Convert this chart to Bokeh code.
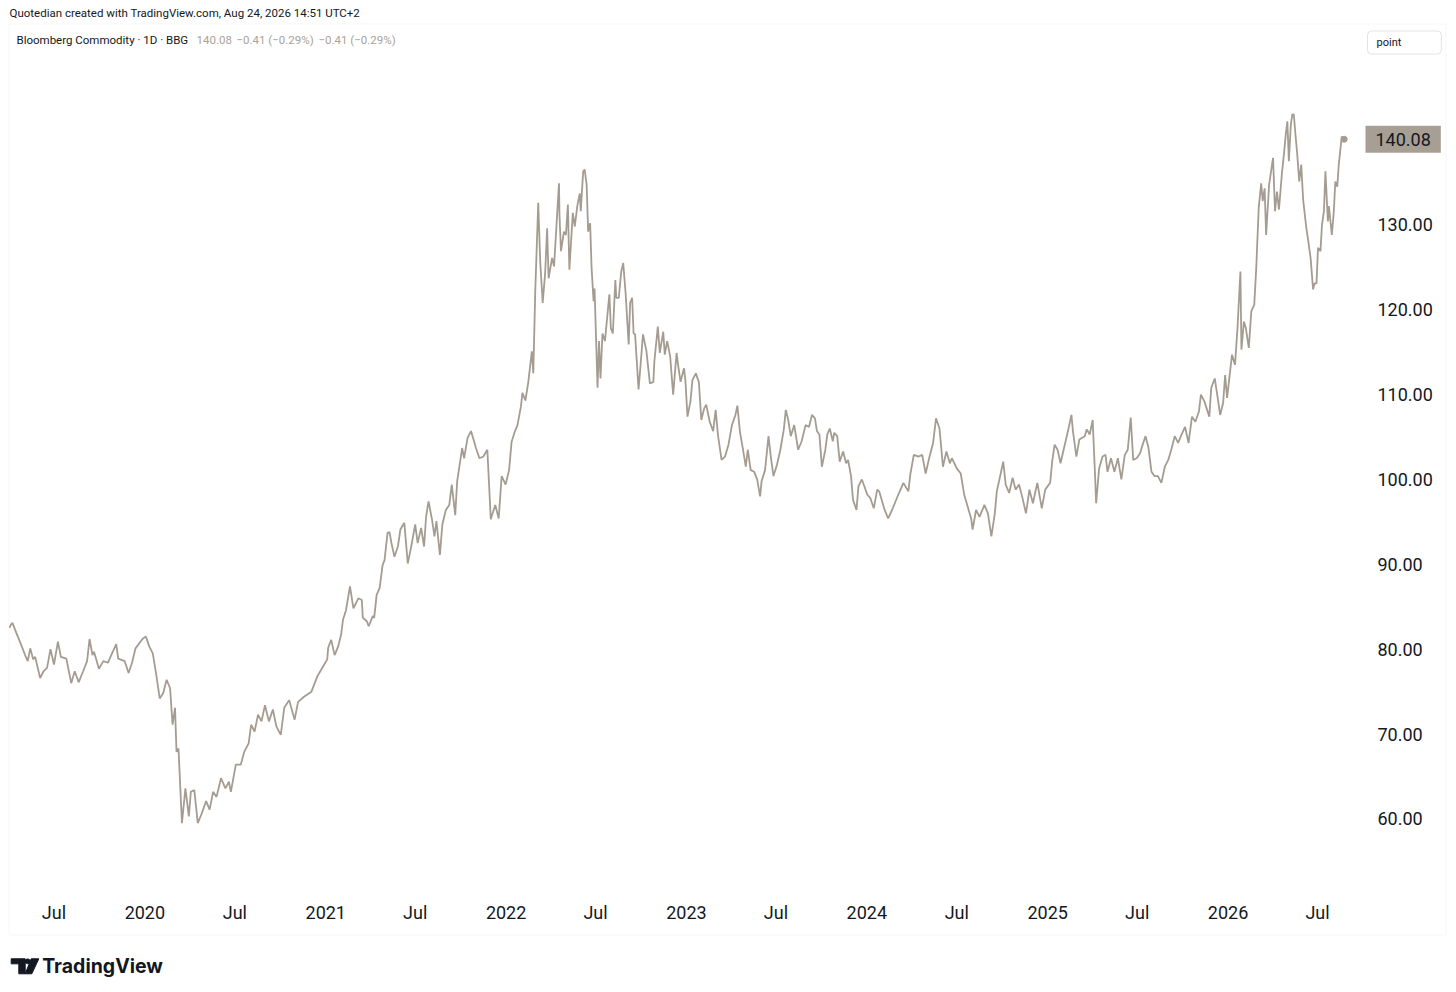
import pandas as pd
from bokeh.plotting import figure
from bokeh.models import (Range1d, FixedTicker, CustomJSTickFormatter, NumeralTickFormatter,
                          Label, BoxAnnotation, ColumnDataSource)
from bokeh.embed import file_html
from bokeh.resources import INLINE

# ---------------- data ----------------
dates = [
    "2019-04-02", "2019-04-05", "2019-04-08", "2019-04-16", "2019-04-23", "2019-05-03", "2019-05-09",
    "2019-05-14", "2019-05-20", "2019-05-24", "2019-06-03", "2019-06-10", "2019-06-17", "2019-06-24",
    "2019-07-01", "2019-07-09", "2019-07-15", "2019-07-26", "2019-08-05", "2019-08-12", "2019-08-20",
    "2019-08-29", "2019-09-06", "2019-09-11", "2019-09-17", "2019-09-20", "2019-09-30", "2019-10-09",
    "2019-10-18", "2019-10-25", "2019-11-04", "2019-11-08", "2019-11-21", "2019-11-29", "2019-12-06",
    "2019-12-13", "2019-12-27",
    "2020-01-03", "2020-01-10", "2020-01-17", "2020-01-24", "2020-01-31", "2020-02-07", "2020-02-14",
    "2020-02-21", "2020-02-26", "2020-03-02", "2020-03-05", "2020-03-09", "2020-03-16", "2020-03-23",
    "2020-03-30", "2020-04-03", "2020-04-10", "2020-04-17", "2020-04-24", "2020-05-04", "2020-05-11",
    "2020-05-18", "2020-05-25", "2020-06-03", "2020-06-12", "2020-06-19", "2020-06-23", "2020-07-03",
    "2020-07-13", "2020-07-20", "2020-07-29", "2020-08-03", "2020-08-10", "2020-08-17", "2020-08-24",
    "2020-08-31", "2020-09-08", "2020-09-16", "2020-09-23", "2020-10-02", "2020-10-09", "2020-10-19",
    "2020-10-30", "2020-11-06", "2020-11-18", "2020-12-03", "2020-12-15", "2020-12-23",
    "2021-01-04", "2021-01-06", "2021-01-12", "2021-01-19", "2021-01-26", "2021-02-01", "2021-02-05",
    "2021-02-11", "2021-02-19", "2021-02-26", "2021-03-08", "2021-03-15", "2021-03-17", "2021-03-25",
    "2021-03-29", "2021-04-06", "2021-04-09", "2021-04-14", "2021-04-20", "2021-04-26", "2021-04-30",
    "2021-05-06", "2021-05-10", "2021-05-14", "2021-05-20", "2021-05-27", "2021-06-01", "2021-06-09",
    "2021-06-16", "2021-06-23", "2021-07-01", "2021-07-06", "2021-07-13", "2021-07-19", "2021-07-23",
    "2021-07-28", "2021-08-04", "2021-08-09", "2021-08-13", "2021-08-20", "2021-08-25", "2021-09-01",
    "2021-09-08", "2021-09-13", "2021-09-20", "2021-09-24", "2021-10-04", "2021-10-08", "2021-10-15",
    "2021-10-22", "2021-11-01", "2021-11-08", "2021-11-16", "2021-11-24", "2021-12-01", "2021-12-10",
    "2021-12-17", "2021-12-23", "2021-12-31",
    "2022-01-07", "2022-01-12", "2022-01-19", "2022-01-24", "2022-01-31", "2022-02-03", "2022-02-09",
    "2022-02-15", "2022-02-22", "2022-02-25", "2022-03-01", "2022-03-07", "2022-03-11", "2022-03-16",
    "2022-03-21", "2022-03-25", "2022-03-28", "2022-04-04", "2022-04-08", "2022-04-18", "2022-04-19",
    "2022-04-22", "2022-04-28", "2022-05-02", "2022-05-06", "2022-05-09", "2022-05-16", "2022-05-20",
    "2022-05-25", "2022-05-30", "2022-06-01", "2022-06-06", "2022-06-09", "2022-06-13", "2022-06-16",
    "2022-06-20", "2022-06-23", "2022-06-27", "2022-06-29", "2022-07-05", "2022-07-08", "2022-07-11",
    "2022-07-15", "2022-07-20", "2022-07-25", "2022-07-29", "2022-08-01", "2022-08-05", "2022-08-10",
    "2022-08-12", "2022-08-17", "2022-08-22", "2022-08-26", "2022-08-31", "2022-09-06", "2022-09-09",
    "2022-09-13", "2022-09-16", "2022-09-19", "2022-09-26", "2022-09-29", "2022-10-05", "2022-10-12",
    "2022-10-19", "2022-10-26", "2022-10-28", "2022-11-04", "2022-11-08", "2022-11-15", "2022-11-18",
    "2022-11-23", "2022-11-29", "2022-12-05", "2022-12-12", "2022-12-15", "2022-12-20", "2022-12-27",
    "2022-12-30",
    "2023-01-03", "2023-01-09", "2023-01-13", "2023-01-20", "2023-01-26", "2023-01-31", "2023-02-06",
    "2023-02-10", "2023-02-17", "2023-02-24", "2023-03-01", "2023-03-06", "2023-03-13", "2023-03-20",
    "2023-03-27", "2023-04-03", "2023-04-10", "2023-04-14", "2023-04-19", "2023-04-26", "2023-05-01",
    "2023-05-05", "2023-05-11", "2023-05-18", "2023-05-24", "2023-05-30", "2023-06-02", "2023-06-09",
    "2023-06-16", "2023-06-21", "2023-06-26", "2023-07-03", "2023-07-10", "2023-07-17", "2023-07-21",
    "2023-07-26", "2023-07-31", "2023-08-07", "2023-08-15", "2023-08-22", "2023-08-30", "2023-09-06",
    "2023-09-12", "2023-09-18", "2023-09-22", "2023-09-27", "2023-10-02", "2023-10-09", "2023-10-13",
    "2023-10-18", "2023-10-24", "2023-10-27", "2023-11-02", "2023-11-07", "2023-11-14", "2023-11-20",
    "2023-11-24", "2023-11-30", "2023-12-04", "2023-12-11", "2023-12-15", "2023-12-22",
    "2024-01-02", "2024-01-08", "2024-01-15", "2024-01-22", "2024-01-26", "2024-02-05", "2024-02-13",
    "2024-02-21", "2024-02-28", "2024-03-06", "2024-03-15", "2024-03-25", "2024-03-29", "2024-04-05",
    "2024-04-15", "2024-04-22", "2024-04-29", "2024-05-06", "2024-05-14", "2024-05-20", "2024-05-27",
    "2024-06-03", "2024-06-10", "2024-06-17", "2024-06-21", "2024-07-01", "2024-07-09", "2024-07-16",
    "2024-07-23", "2024-07-30", "2024-08-02", "2024-08-09", "2024-08-16", "2024-08-26", "2024-09-02",
    "2024-09-09", "2024-09-16", "2024-09-20", "2024-09-26", "2024-10-03", "2024-10-08", "2024-10-15",
    "2024-10-22", "2024-10-28", "2024-11-04", "2024-11-11", "2024-11-18", "2024-11-25", "2024-12-02",
    "2024-12-11", "2024-12-20", "2024-12-27",
    "2025-01-06", "2025-01-10", "2025-01-15", "2025-01-21", "2025-01-27", "2025-02-03", "2025-02-11",
    "2025-02-18", "2025-02-21", "2025-02-28", "2025-03-06", "2025-03-17", "2025-03-21", "2025-03-27",
    "2025-04-02", "2025-04-07", "2025-04-09", "2025-04-15", "2025-04-22", "2025-04-28", "2025-05-02",
    "2025-05-09", "2025-05-16", "2025-05-23", "2025-05-30", "2025-06-06", "2025-06-12", "2025-06-18",
    "2025-06-23", "2025-06-30", "2025-07-07", "2025-07-11", "2025-07-18", "2025-07-24", "2025-07-30",
    "2025-08-05", "2025-08-12", "2025-08-19", "2025-08-26", "2025-09-02", "2025-09-08", "2025-09-15",
    "2025-09-22", "2025-09-29", "2025-10-06", "2025-10-13", "2025-10-20", "2025-10-27", "2025-11-03",
    "2025-11-07", "2025-11-14", "2025-11-24", "2025-11-28", "2025-12-05", "2025-12-10", "2025-12-16",
    "2025-12-22", "2025-12-26", "2025-12-30",
    "2026-01-05", "2026-01-09", "2026-01-15", "2026-01-20", "2026-01-26", "2026-01-28", "2026-02-02",
    "2026-02-06", "2026-02-12", "2026-02-17", "2026-02-23", "2026-02-27", "2026-03-04", "2026-03-09",
    "2026-03-12", "2026-03-16", "2026-03-19", "2026-03-25", "2026-03-30", "2026-04-02", "2026-04-06",
    "2026-04-10", "2026-04-14", "2026-04-20", "2026-04-24", "2026-04-28", "2026-05-01", "2026-05-04",
    "2026-05-08", "2026-05-11", "2026-05-14", "2026-05-18", "2026-05-21", "2026-05-25", "2026-05-29",
    "2026-06-02", "2026-06-08", "2026-06-12", "2026-06-17", "2026-06-22", "2026-06-25", "2026-06-29",
    "2026-07-02", "2026-07-07", "2026-07-10", "2026-07-14", "2026-07-17", "2026-07-22", "2026-07-24",
    "2026-07-30", "2026-08-03", "2026-08-06", "2026-08-10", "2026-08-13", "2026-08-19", "2026-08-24",
]

values = [
    82.5, 82.9, 83.1, 81.9, 80.9, 79.4, 78.6,
    80.1, 78.8, 79.1, 76.6, 77.4, 77.8, 80.0,
    78.2, 80.9, 79.1, 78.9, 76.0, 77.4, 76.1,
    77.4, 78.6, 81.2, 79.3, 79.7, 77.7, 78.6,
    78.4, 79.3, 80.6, 78.9, 78.6, 77.2, 78.4,
    80.1, 81.2,
    81.5, 80.3, 79.5, 77.0, 74.2, 74.8, 76.4,
    75.4, 71.1, 73.1, 67.9, 68.3, 59.5, 63.6,
    60.3, 63.2, 63.4, 59.5, 60.5, 62.1, 61.1,
    63.2, 62.6, 64.8, 63.6, 64.4, 63.2, 66.4,
    66.4, 67.9, 68.9, 71.1, 70.3, 72.3, 71.5,
    73.4, 71.5, 72.9, 70.9, 69.9, 73.1, 74.0,
    71.7, 73.8, 74.4, 75.0, 76.8, 77.6,
    78.8, 80.2, 81.1, 79.3, 80.3, 81.7, 83.5,
    84.6, 87.4, 84.8, 86.0, 85.8, 83.7, 83.3,
    82.7, 83.9, 83.7, 86.4, 87.2, 89.9, 90.5,
    93.7, 93.8, 92.5, 90.9, 92.1, 94.1, 94.9,
    90.1, 92.1, 94.7, 92.5, 94.3, 92.1, 95.6,
    97.4, 95.3, 93.3, 95.1, 91.1, 94.7, 96.4,
    97.0, 99.4, 95.8, 99.8, 103.7, 102.5, 104.9,
    105.7, 103.7, 102.5, 102.7, 103.5, 95.3, 97.0,
    95.4, 100.4, 99.4,
    101.1, 104.4, 105.7, 106.4, 108.6, 110.2, 109.3,
    111.5, 115.1, 112.5, 122.2, 132.6, 125.7, 120.8,
    124.3, 129.6, 123.7, 126.1, 125.1, 134.9, 131.2,
    126.9, 129.2, 128.8, 132.4, 124.7, 131.4, 129.8,
    132.2, 133.7, 131.6, 136.3, 136.5, 134.7, 129.2,
    130.2, 124.9, 121.0, 122.5, 110.8, 116.3, 111.9,
    117.2, 116.3, 119.4, 121.8, 117.8, 117.2, 123.5,
    121.4, 121.4, 124.5, 125.5, 121.8, 115.9, 120.8,
    121.4, 117.2, 117.1, 110.6, 112.7, 117.1, 115.1,
    111.3, 111.5, 113.9, 118.0, 114.9, 117.4, 114.7,
    116.3, 114.5, 110.0, 114.9, 113.5, 111.5, 113.1,
    111.5,
    107.4, 109.2, 111.7, 112.5, 111.5, 107.0, 108.4,
    108.8, 106.8, 105.7, 108.2, 105.1, 102.3, 102.7,
    104.1, 106.4, 107.6, 108.7, 105.7, 103.3, 101.5,
    103.5, 101.1, 100.9, 100.0, 98.0, 99.8, 101.1,
    105.1, 102.5, 100.4, 101.7, 103.5, 105.9, 108.2,
    107.0, 105.1, 106.4, 103.5, 104.5, 106.4, 106.2,
    107.6, 107.2, 105.7, 105.3, 101.5, 103.5, 105.3,
    106.0, 104.5, 105.5, 105.1, 102.1, 103.3, 101.9,
    102.3, 100.4, 97.6, 96.4, 99.2, 100.0,
    98.2, 97.8, 96.6, 98.8, 98.6, 96.6, 95.4,
    96.4, 97.4, 98.4, 99.6, 98.6, 100.6, 102.9,
    102.7, 102.9, 100.7, 102.5, 104.3, 107.2, 106.0,
    101.5, 103.3, 101.9, 102.5, 101.3, 100.7, 98.2,
    96.8, 95.4, 94.1, 96.4, 95.6, 97.0, 96.0,
    93.3, 96.0, 98.6, 100.2, 102.1, 99.4, 98.4,
    100.2, 98.8, 99.4, 97.8, 96.0, 98.8, 97.2,
    99.6, 96.6, 98.8,
    99.6, 102.1, 104.1, 103.5, 101.9, 103.7, 105.7,
    107.6, 105.7, 102.7, 104.7, 105.1, 105.9, 105.3,
    107.0, 100.2, 97.2, 101.3, 102.7, 102.9, 100.9,
    102.5, 100.9, 102.5, 100.0, 102.9, 103.5, 107.3,
    102.3, 102.5, 103.1, 103.9, 105.1, 103.7, 100.9,
    100.4, 100.4, 99.6, 101.5, 102.3, 103.5, 105.1,
    104.3, 105.3, 106.2, 104.3, 107.4, 106.8, 108.0,
    110.0, 109.2, 107.4, 110.8, 111.9, 110.0, 107.6,
    109.0, 112.3, 109.6,
    112.7, 114.7, 113.5, 117.8, 124.5, 115.3, 118.6,
    117.8, 115.5, 119.8, 120.6, 124.9, 132.0, 134.9,
    132.8, 134.3, 128.8, 134.7, 136.7, 137.9, 131.6,
    133.9, 131.8, 136.1, 138.3, 140.8, 142.2, 137.5,
    141.8, 143.0, 143.0, 140.2, 138.3, 135.1, 137.1,
    132.9, 129.8, 128.2, 126.1, 122.4, 123.1, 123.1,
    127.3, 126.9, 130.0, 131.6, 136.3, 130.4, 132.2,
    128.8, 131.6, 135.1, 134.5, 137.1, 140.4, 140.08,
]

price_ticks = [60, 70, 80, 90, 100, 110, 120, 130]
time_ticks = ["2019-07-01", "2020-01-01", "2020-07-01", "2021-01-01", "2021-07-01", "2022-01-01",
              "2022-07-01", "2023-01-01", "2023-07-01", "2024-01-01", "2024-07-01", "2025-01-01",
              "2025-07-01", "2026-01-01", "2026-07-01"]
last_value = values[-1]

title_text = "Quotedian created with TradingView.com, Aug 24, 2026 14:51 UTC+2"
legend_name = "Bloomberg Commodity · 1D · BBG"
legend_vals = ["140.08", "−0.41 (−0.29%)", "−0.41 (−0.29%)"]

# ---------------- styling ----------------
LINE = "#a59c91"
TXT = "#131722"
FONT = "Roboto"
BORDER = "#e0e3eb"
H = 986   # height of the decoration layer that sits under the chart

# ---------------- decoration layer (page-pixel coordinates) ----------------
logo_t_x = [11.7, 25.7, 25.7, 19.3, 19.3, 11.7]
logo_t_y = [957.3, 957.3, 972.3, 972.3, 962.3, 962.3]
logo_s_x = [31.7, 39.3, 32.3, 25.7]
logo_s_y = [957.3, 957.3, 972.3, 972.3]

q = figure(width=1447, height=H, min_border=0, x_range=Range1d(1, 1448), y_range=Range1d(985, -1),
           x_axis_location=None, y_axis_location=None, output_backend="svg", toolbar_location=None,
           background_fill_color="white", border_fill_color="white")
q.outline_line_color = None
q.grid.visible = False
# chart panel border
q.add_layout(BoxAnnotation(left=9.5, right=1446.5, top=22.5, bottom=933.5,
                           fill_color=None, line_color=BORDER, line_width=1))
# "point" button
q.add_layout(Label(x=1368, y=41, text="point", text_font=FONT, text_font_size="11px",
                   text_color=TXT, text_baseline="middle",
                   background_fill_color="white", border_line_color=BORDER,
                   border_radius=4, padding=(9, 40, 5, 5)))
# TradingView logo
q.patch(logo_t_x, logo_t_y, color=TXT)
q.patch(logo_s_x, logo_s_y, color=TXT)
q.circle(x=[28.2], y=[959.8], radius=2.4, color=TXT)
q.add_layout(Label(x=42.7, y=964, text="TradingView", text_font="Inter", text_font_size="19.5px",
                   text_font_style="bold", text_color=TXT, text_baseline="middle"))

# ---------------- the chart ----------------
x = pd.to_datetime(dates)
src = ColumnDataSource(dict(x=x, y=values))

p = figure(
    x_axis_type="datetime", y_axis_location="right",
    frame_width=1353, frame_height=870,
    min_border_left=8, min_border_right=86, min_border_top=24, min_border_bottom=60,
    x_range=Range1d(pd.Timestamp("2019-03-31"), pd.Timestamp("2026-09-28")),
    y_range=Range1d(51.1, 153.6),
    output_backend="svg", toolbar_location=None,
    background_fill_color=None, border_fill_color=None,
)
p.outline_line_color = None
p.grid.visible = False

p.line("x", "y", source=src, line_color=LINE, line_width=1.8)
p.scatter(x=[x[-1]], y=[last_value], size=6, color=LINE)

# y axis (right)
ya = p.yaxis[0]
ya.ticker = FixedTicker(ticks=price_ticks)
ya.formatter = NumeralTickFormatter(format="0.00")
ya.axis_line_color = None
ya.major_tick_line_color = None
ya.minor_tick_line_color = None
ya.major_tick_out = 0
ya.major_label_standoff = 16
ya.major_label_text_font = FONT
ya.major_label_text_font_size = "18px"
ya.major_label_text_color = TXT

# x axis (bottom)
xa = p.xaxis[0]
xa.ticker = FixedTicker(ticks=[pd.Timestamp(t).value // 10**6 for t in time_ticks])
xa.formatter = CustomJSTickFormatter(code="""
const d = new Date(tick);
const m = ["Jan","Feb","Mar","Apr","May","Jun","Jul","Aug","Sep","Oct","Nov","Dec"];
return d.getUTCMonth() === 0 ? String(d.getUTCFullYear()) : m[d.getUTCMonth()];
""")
xa.axis_line_color = None
xa.major_tick_line_color = None
xa.minor_tick_line_color = None
xa.major_tick_out = 0
xa.major_label_standoff = 7
xa.major_label_text_font = FONT
xa.major_label_text_font_size = "18px"
xa.major_label_text_color = TXT

# legend line inside the chart
p.add_layout(Label(x=8, y=855, x_units="screen", y_units="screen", text=legend_name,
                   text_font=FONT, text_font_size="11.5px", text_color=TXT, text_baseline="middle"))
for xs, t in zip([188, 228, 310], legend_vals):
    p.add_layout(Label(x=xs, y=855, x_units="screen", y_units="screen", text=t,
                       text_font=FONT, text_font_size="11.5px", text_color="#aaa298",
                       text_baseline="middle"))

# header line (side panel: not clipped)
p.add_layout(Label(x=1, y=154.9, x_units="screen", y_units="data", text=title_text,
                   text_font=FONT, text_font_size="11.5px", text_color=TXT, text_baseline="middle"),
             "above")

# last price label on the price scale
p.add_layout(Label(x=1357, y=last_value, x_units="screen", y_units="data",
                   text=f"{last_value:.2f}", text_font=FONT, text_font_size="18px",
                   text_color=TXT, text_baseline="middle",
                   background_fill_color="#a89f94", padding=(10, 7)), "below")

# the chart sits on top of the decoration layer (two independent roots)
p.styles = {"margin-top": f"-{H}px"}

open("out.html", "w").write(file_html([q, p], INLINE))
